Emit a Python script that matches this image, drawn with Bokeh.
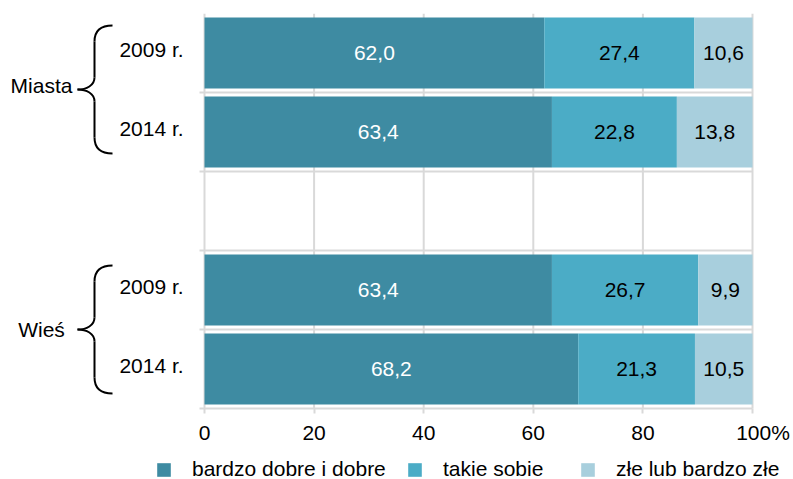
from bokeh.plotting import figure
from bokeh.models import ColumnDataSource, FixedTicker, Legend, LegendItem
from bokeh.core.properties import value
from bokeh.embed import file_html
from bokeh.resources import INLINE

# Self-assessed health: share of answers (%), by place of residence and year
groups = ["Miasta", "Wieś"]
years = ["2009 r.", "2014 r."]
series_names = ["bardzo dobre i dobre", "takie sobie", "złe lub bardzo złe"]
good = [62.0, 63.4, 63.4, 68.2]
fair = [27.4, 22.8, 26.7, 21.3]
poor = [10.6, 13.8, 9.9, 10.5]
x_ticks = [0, 20, 40, 60, 80, 100]
x_tick_labels = ["0", "20", "40", "60", "80", "\u2002\u2002100%"]

colors = ["#3E8BA2", "#4BACC6", "#A8CFDD"]
value_text_colors = ["white", "black", "black"]
FONT = "Liberation Sans"
FS = "21px"
GRID = "#D9D9D9"

# canvas geometry (pixels)
W, H = 793, 479
X0_PX, X100_PX = 204, 752      # where 0 % and 100 % fall
TOP_PX, BOTTOM_PX = 13, 408    # top and bottom of the bar area
PX = (X100_PX - X0_PX) / 100.0  # pixels per percent


def px_x(px):
    """Horizontal pixel position -> data x."""
    return (px - X0_PX) / PX


n_per_group = len(years)
n_slots = len(groups) * n_per_group + len(groups) - 1   # one blank slot between groups
SLOT_PX = (BOTTOM_PX - TOP_PX) / n_slots
slot_index = [g * (n_per_group + 1) + k for g in range(len(groups)) for k in range(n_per_group)]
ys = [n_slots - i - 0.5 for i in slot_index]
row_years = [y for _ in groups for y in years]

# the frame spans the whole canvas below the top margin; the axis and the
# legend sit inside it, under y = 0
y_min = -(H - BOTTOM_PX) / SLOT_PX
p = figure(width=W, height=H,
           x_range=(px_x(0), px_x(W)), y_range=(y_min, n_slots),
           y_axis_location=None, toolbar_location=None, output_backend="svg",
           min_border_left=0, min_border_right=0,
           min_border_top=TOP_PX, min_border_bottom=0)
p.outline_line_color = None
p.background_fill_color = "white"
p.border_fill_color = "white"
p.xgrid.visible = False
p.ygrid.visible = False

# vertical grid lines over the bar area only
p.segment(x0=x_ticks, x1=x_ticks, y0=[0] * len(x_ticks), y1=[n_slots] * len(x_ticks),
          line_color=GRID, line_width=2, level="underlay")

# horizontal separators between rows, with a short stub left of the axis
sep_y = list(range(1, n_slots))
p.segment(x0=[px_x(X0_PX - 5)] * len(sep_y), x1=[100] * len(sep_y), y0=sep_y, y1=sep_y,
          line_color=GRID, line_width=2, level="underlay")

# x axis pinned at y = 0
ax = p.xaxis[0]
ax.fixed_location = 0
ax.ticker = FixedTicker(ticks=x_ticks)
ax.major_label_overrides = {t: lab for t, lab in zip(x_ticks, x_tick_labels)}
ax.bounds = (px_x(X0_PX - 5), 100)
ax.axis_line_color = GRID
ax.axis_line_width = 2
ax.major_tick_line_color = GRID
ax.major_tick_line_width = 2
ax.major_tick_in = 0
ax.major_tick_out = 5
ax.minor_tick_line_color = None
ax.major_label_text_font = FONT
ax.major_label_text_font_size = FS
ax.major_label_text_color = "black"
ax.major_label_standoff = 7

# stacked bars with value labels
series = [good, fair, poor]
left = [0.0] * len(good)
renderers = []
for vals, col, tcol in zip(series, colors, value_text_colors):
    right = [l + v for l, v in zip(left, vals)]
    src = ColumnDataSource(dict(
        y=ys, left=left, right=right,
        mid=[(l + r) / 2 for l, r in zip(left, right)],
        lab=[f"{v:.1f}".replace(".", ",") for v in vals],
    ))
    r = p.hbar(y="y", left="left", right="right", height=0.9, source=src,
               fill_color=col, line_color=None)
    renderers.append(r)
    p.text(x="mid", y="y", text="lab", source=src, text_color=tcol,
           text_font=value(FONT), text_font_size=FS,
           text_align="center", text_baseline="middle")
    left = right

# year labels
p.text(x=[px_x(151)] * len(ys), y=ys, text=row_years, text_color="black",
       text_font=value(FONT), text_font_size=FS,
       text_align="center", text_baseline="middle", y_offset=-4)

# group labels and curly braces
XS_END, XS_SPINE, XS_TIP = px_x(112), px_x(94), px_x(77)
half = 64 / SLOT_PX
hook = 16 / SLOT_PX
tipr = 12 / SLOT_PX
brace_lift = [3, 0]      # px the brace point sits above the row boundary
label_dy = [-4, 0]       # px shift of the group name relative to the point
bz = dict(x0=[], y0=[], x1=[], y1=[], cx0=[], cy0=[], cx1=[], cy1=[])
seg = dict(x0=[], y0=[], x1=[], y1=[])
centres = []
for g in range(len(groups)):
    idx = [slot_index[g * n_per_group + k] for k in range(n_per_group)]
    c = n_slots - (idx[0] + idx[-1] + 1) / 2.0 + brace_lift[g] / SLOT_PX
    centres.append(c)
    for s in (1, -1):
        end_y = c + s * half
        # hook at the end of the brace
        bz["x0"].append(XS_END); bz["y0"].append(end_y)
        bz["x1"].append(XS_SPINE); bz["y1"].append(end_y - s * hook)
        bz["cx0"].append(px_x(100)); bz["cy0"].append(end_y)
        bz["cx1"].append(XS_SPINE); bz["cy1"].append(end_y - s * 5 / SLOT_PX)
        # straight spine
        seg["x0"].append(XS_SPINE); seg["y0"].append(end_y - s * hook)
        seg["x1"].append(XS_SPINE); seg["y1"].append(c + s * tipr)
        # curve into the point
        bz["x0"].append(XS_SPINE); bz["y0"].append(c + s * tipr)
        bz["x1"].append(XS_TIP); bz["y1"].append(c)
        bz["cx0"].append(XS_SPINE); bz["cy0"].append(c + s * 4 / SLOT_PX)
        bz["cx1"].append(px_x(86)); bz["cy1"].append(c)

p.bezier(source=ColumnDataSource(bz), x0="x0", y0="y0", x1="x1", y1="y1",
         cx0="cx0", cy0="cy0", cx1="cx1", cy1="cy1", line_color="black", line_width=2)
p.segment(source=ColumnDataSource(seg), x0="x0", y0="y0", x1="x1", y1="y1",
          line_color="black", line_width=2)
for name, c, dy in zip(groups, centres, label_dy):
    p.text(x=[px_x(41)], y=[c], text=[name], text_color="black",
           text_font=value(FONT), text_font_size=FS,
           text_align="center", text_baseline="middle", y_offset=dy)

# legend: one entry per box so each can sit at its own place
legend_x = [155, 406, 579]
for name, r, lx in zip(series_names, renderers, legend_x):
    lg = Legend(items=[LegendItem(label=name, renderers=[r])],
                location=(lx, -2), orientation="horizontal",
                padding=0, margin=0, spacing=0,
                glyph_width=17, glyph_height=17, label_standoff=20,
                label_text_font=FONT, label_text_font_size=FS,
                label_text_color="black",
                border_line_color=None, background_fill_alpha=0)
    p.add_layout(lg)

open("out.html", "w").write(file_html(p, INLINE))
